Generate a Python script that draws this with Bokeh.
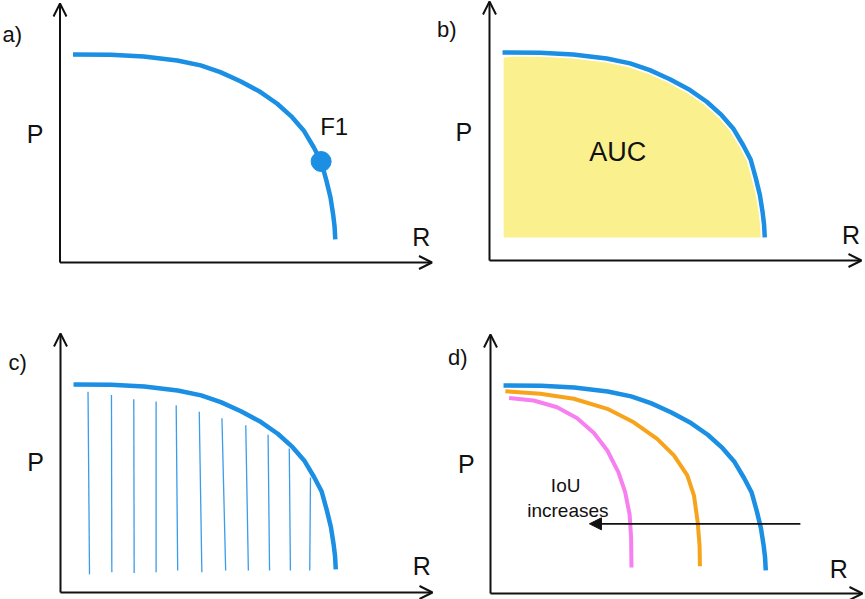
from bokeh.plotting import figure
from bokeh.layouts import gridplot
from bokeh.models import Arrow, OpenHead, NormalHead
from bokeh.core.properties import value
from bokeh.embed import file_html
from bokeh.resources import INLINE

# ---------------- data (R, P in axis units; axis arrow tips = 1) ----------------
# reference PR curve (blue), same in all panels
pr_recall = [0.035, 0.136, 0.225, 0.315, 0.378, 0.431, 0.485, 0.539, 0.584,
             0.624, 0.655, 0.682, 0.702, 0.716, 0.727, 0.734, 0.738, 0.740]
pr_precision = [0.803, 0.802, 0.795, 0.780, 0.761, 0.735, 0.700, 0.658, 0.613,
                0.561, 0.510, 0.445, 0.390, 0.317, 0.252, 0.188, 0.140, 0.089]

# F1 point on curve
f1_recall = [0.702]
f1_precision = [0.390]

# AUC fill corners
auc_left = 0.038
auc_left_top = 0.783
auc_bottom = 0.089

# interpolated-AP vertical samples (panel c)
samp_r_top = [0.074, 0.137, 0.197, 0.257, 0.311, 0.373, 0.434, 0.498, 0.558, 0.615, 0.672]
samp_p_top = [0.775, 0.763, 0.746, 0.737, 0.723, 0.698, 0.673, 0.646, 0.609, 0.556, 0.444]
samp_r_bot = [0.078, 0.138, 0.198, 0.257, 0.315, 0.380, 0.444, 0.505, 0.562, 0.618, 0.670]
samp_p_bot = [0.070, 0.078, 0.075, 0.078, 0.085, 0.078, 0.085, 0.085, 0.085, 0.085, 0.085]

# panel d: curves at higher IoU thresholds
orange_recall = [0.040, 0.134, 0.224, 0.314, 0.385, 0.448, 0.493, 0.529, 0.547, 0.557, 0.562, 0.563]
orange_precision = [0.781, 0.771, 0.752, 0.713, 0.661, 0.597, 0.533, 0.456, 0.378, 0.275, 0.185, 0.105]
pink_recall = [0.050, 0.116, 0.179, 0.233, 0.278, 0.314, 0.344, 0.362, 0.374, 0.378, 0.379]
pink_precision = [0.755, 0.745, 0.719, 0.677, 0.620, 0.552, 0.468, 0.391, 0.305, 0.215, 0.100]

# IoU arrow (panel d)
iou_arrow_r = [0.833, 0.266]
iou_arrow_p = 0.269

panel_letters = ["a)", "b)", "c)", "d)"]
axis_y_label = "P"
axis_x_label = "R"
f1_label = "F1"
auc_label = "AUC"
iou_labels = ["IoU", "increases"]

# ---------------- style / layout ----------------
SX, SY = 372.0, 259.0          # pixels per axis unit
BLUE = "#1a8fe3"
HATCH = "#3d9ce8"
ORANGE = "#f7a31c"
PINK = "#f77ff0"
YELLOW = "#fbf08e"
INK = "#111111"
FONT = value("Liberation Sans")


def make_panel(w, h, ox, oy):
    p = figure(width=w, height=h,
               x_range=(-ox / SX, (w - ox) / SX),
               y_range=((oy - h) / SY, oy / SY),
               output_backend="svg", toolbar_location=None,
               x_axis_location=None, y_axis_location=None, min_border=0)
    p.grid.visible = False
    p.outline_line_color = None
    p.background_fill_color = "white"
    p.border_fill_color = "white"
    # hand-drawn style axes
    p.add_layout(Arrow(end=OpenHead(size=13, line_width=2, line_color=INK),
                       x_start=0, y_start=0, x_end=0, y_end=1.0,
                       line_width=2, line_color=INK))
    p.add_layout(Arrow(end=OpenHead(size=13, line_width=2, line_color=INK),
                       x_start=0, y_start=0, x_end=1.0, y_end=0,
                       line_width=2, line_color=INK))
    return p


def label(p, x, y, txt, size, align="center"):
    p.text(x=[x], y=[y], text=[txt], text_align=align, text_baseline="middle",
           text_font=FONT, text_font_size=size, text_color=INK)


def axis_labels(p, letter, lx, ly, px, py, rx, ry):
    label(p, lx, ly, letter, "22px")
    label(p, px, py, axis_y_label, "25px")
    label(p, rx, ry, axis_x_label, "25px")


def curve(p, xs, ys, color, width):
    p.line(xs, ys, line_color=color, line_width=width, line_cap="butt", line_join="round")


# panel a : F1
pa = make_panel(434, 300, 59.5, 262)
curve(pa, pr_recall, pr_precision, BLUE, 4.5)
pa.scatter(f1_recall, f1_precision, size=20, fill_color=BLUE, line_color=BLUE)
label(pa, 0.737, 0.525, f1_label, "24px")
axis_labels(pa, panel_letters[0], -0.128, 0.880, -0.067, 0.498, 0.971, 0.10)

# panel b : AUC
pb = make_panel(431, 300, 55, 260)
fill_x = [auc_left] + pr_recall[1:] + [pr_recall[-1], auc_left]
fill_y = [auc_left_top] + pr_precision[1:] + [auc_bottom, auc_bottom]
pb.patch(fill_x, fill_y, fill_color=YELLOW, line_color=None)
curve(pb, pr_recall, pr_precision, "white", 8)
curve(pb, pr_recall, pr_precision, BLUE, 4.5)
label(pb, 0.345, 0.418, auc_label, "27px")
axis_labels(pb, panel_letters[1], -0.115, 0.893, -0.069, 0.495, 0.972, 0.097)

# panel c : sampled precision
pc = make_panel(434, 299, 60, 292)
pc.segment(x0=samp_r_bot, y0=samp_p_bot, x1=samp_r_top, y1=samp_p_top,
           line_color=HATCH, line_width=1.3)
curve(pc, pr_recall, pr_precision, BLUE, 4.5)
axis_labels(pc, panel_letters[2], -0.115, 0.889, -0.067, 0.503, 0.971, 0.104)

# panel d : IoU thresholds
pd_ = make_panel(431, 299, 56, 293)
curve(pd_, pr_recall, pr_precision, BLUE, 4.5)
curve(pd_, orange_recall, orange_precision, ORANGE, 4)
curve(pd_, pink_recall, pink_precision, PINK, 4)
pd_.add_layout(Arrow(end=NormalHead(size=12, fill_color=INK, line_color=INK),
                     x_start=iou_arrow_r[0], y_start=iou_arrow_p,
                     x_end=iou_arrow_r[1], y_end=iou_arrow_p,
                     line_width=1.6, line_color=INK))
label(pd_, 0.202, 0.417, iou_labels[0], "19px")
label(pd_, 0.208, 0.320, iou_labels[1], "19px")
axis_labels(pd_, panel_letters[3], -0.088, 0.912, -0.065, 0.50, 0.936, 0.095)

grid = gridplot([[pa, pb], [pc, pd_]], toolbar_location=None)

html = file_html(grid, INLINE)
html = html.replace("</head>", "<style>html, body { margin: 0; padding: 0; overflow: hidden; }</style></head>", 1)
open("out.html", "w").write(html)
